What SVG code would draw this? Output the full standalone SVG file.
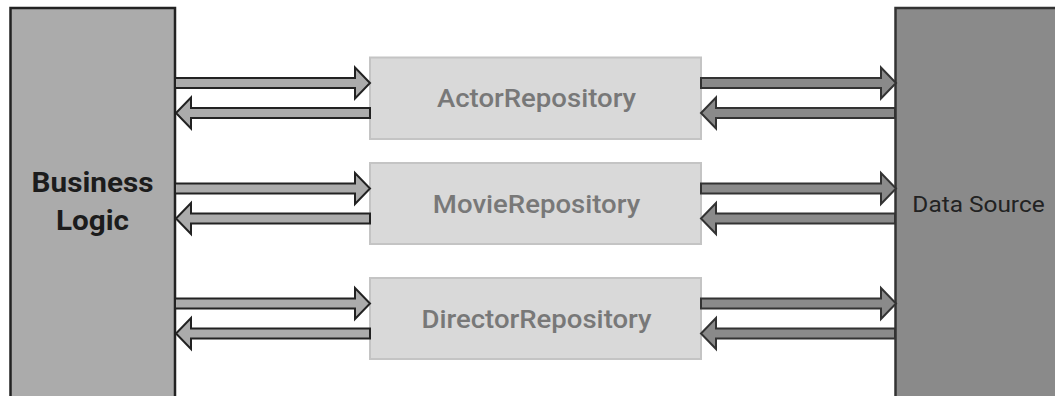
<svg xmlns="http://www.w3.org/2000/svg" width="1055" height="396" viewBox="0 0 1055 396">
<style>
.bl{fill:#ababab;stroke:#222;stroke-width:2.5}
.ds{fill:#8a8a8a;stroke:#333;stroke-width:2.5}
.repo{fill:#d9d9d9;stroke:#c4c4c4;stroke-width:2}
.al{fill:#ababab;stroke:#222;stroke-width:2;stroke-linejoin:miter}
.ar{fill:#8a8a8a;stroke:#333;stroke-width:2;stroke-linejoin:miter}
.rt{font-family:Roboto,"Liberation Sans",sans-serif;font-weight:500;font-size:26.5px;fill:#787878;text-anchor:middle}
.bt{font-family:Roboto,"Liberation Sans",sans-serif;font-weight:700;font-size:27px;fill:#1c1c1c;text-anchor:middle}
.dt{font-family:Roboto,"Liberation Sans",sans-serif;font-weight:400;font-size:22px;fill:#222;text-anchor:middle}
</style>
<rect width="1055" height="396" fill="#fff"/>
<g id="business-logic">
<rect class="bl" x="10.5" y="8" width="164.5" height="400"/>
<text class="bt" transform="translate(92.5,192) scale(1.1,1)">Business</text>
<text class="bt" transform="translate(92.5,230) scale(1.1,1)">Logic</text>
</g>
<g id="data-source">
<rect class="ds" x="895.5" y="8" width="170" height="400"/>
<text class="dt" transform="translate(978.5,211.5) scale(1.11,1)">Data Source</text>
</g>
<g id="actor-repository">
<rect class="repo" x="370" y="57.5" width="331" height="81.5"/>
<text class="rt" transform="translate(536.5,107) scale(1.04,1)">ActorRepository</text>
</g>
<g id="movie-repository">
<rect class="repo" x="370" y="163" width="331" height="81"/>
<text class="rt" transform="translate(536.5,212.5) scale(1.04,1)">MovieRepository</text>
</g>
<g id="director-repository">
<rect class="repo" x="370" y="278" width="331" height="81"/>
<text class="rt" transform="translate(536.5,327.5) scale(1.04,1)">DirectorRepository</text>
</g>
<g id="connectors">
<polygon class="al" points="175,78 355,78 355,67.5 370,83 355,98.5 355,88 175,88"/>
<polygon class="al" points="370,108 191,108 191,97.5 176,113 191,128.5 191,118 370,118"/>
<polygon class="al" points="175,183.5 355,183.5 355,173 370,188.5 355,204 355,193.5 175,193.5"/>
<polygon class="al" points="370,213.5 191,213.5 191,203 176,218.5 191,234 191,223.5 370,223.5"/>
<polygon class="al" points="175,298.5 355,298.5 355,288 370,303.5 355,319 355,308.5 175,308.5"/>
<polygon class="al" points="370,328.5 191,328.5 191,318 176,333.5 191,349 191,338.5 370,338.5"/>
<polygon class="ar" points="701,78 881,78 881,67.5 896,83 881,98.5 881,88 701,88"/>
<polygon class="ar" points="895,108 716,108 716,97.5 701,113 716,128.5 716,118 895,118"/>
<polygon class="ar" points="701,183.5 881,183.5 881,173 896,188.5 881,204 881,193.5 701,193.5"/>
<polygon class="ar" points="895,213.5 716,213.5 716,203 701,218.5 716,234 716,223.5 895,223.5"/>
<polygon class="ar" points="701,298.5 881,298.5 881,288 896,303.5 881,319 881,308.5 701,308.5"/>
<polygon class="ar" points="895,328.5 716,328.5 716,318 701,333.5 716,349 716,338.5 895,338.5"/>
</g>
</svg>
